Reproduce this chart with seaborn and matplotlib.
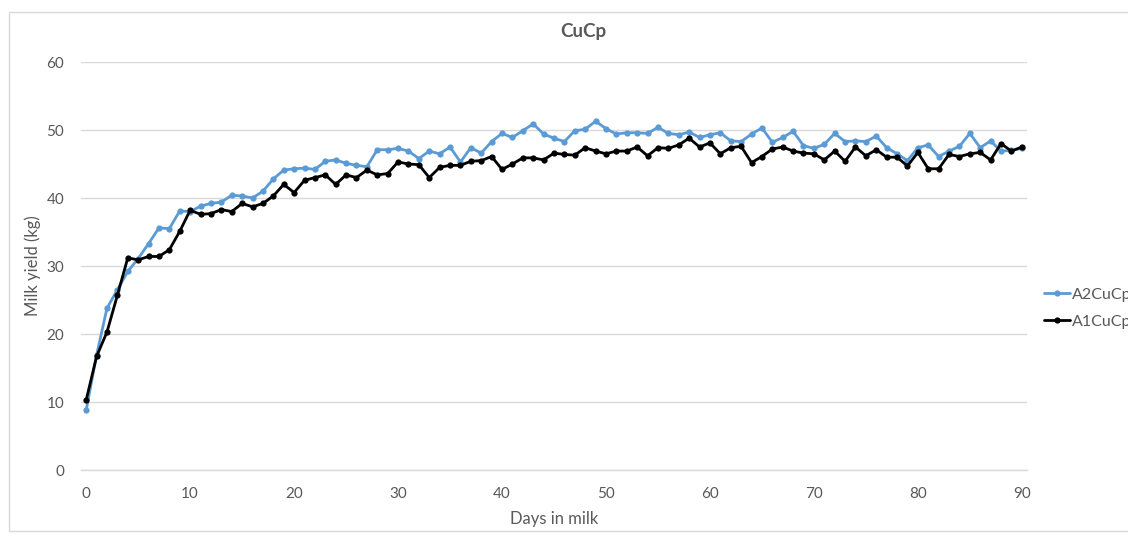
import matplotlib
matplotlib.use("Agg")
import matplotlib.pyplot as plt
import seaborn as sns
import pandas as pd
import numpy as np
from matplotlib.patches import Rectangle

days = list(range(0, 91))

a2_cucp = [8.8, 16.9, 23.8, 26.5, 29.2, 31.1, 33.3, 35.6, 35.5, 38.1,
           38.0, 38.8, 39.2, 39.4, 40.4, 40.3, 40.0, 41.0, 42.8, 44.1,
           44.3, 44.4, 44.2, 45.4, 45.6, 45.1, 44.8, 44.6, 47.1, 47.1,
           47.3, 46.9, 45.8, 46.9, 46.5, 47.5, 45.3, 47.4, 46.6, 48.3,
           49.5, 48.9, 49.9, 50.9, 49.4, 48.8, 48.3, 49.9, 50.1, 51.3,
           50.2, 49.4, 49.6, 49.6, 49.5, 50.4, 49.5, 49.3, 49.7, 48.9,
           49.3, 49.6, 48.4, 48.3, 49.4, 50.3, 48.2, 48.9, 49.8, 47.7,
           47.3, 47.9, 49.5, 48.3, 48.4, 48.3, 49.1, 47.4, 46.5, 45.5,
           47.4, 47.8, 46.1, 46.9, 47.6, 49.5, 47.4, 48.4, 46.9, 47.0,
           47.3]

a1_cucp = [10.3, 16.7, 20.3, 25.7, 31.2, 30.9, 31.4, 31.4, 32.4, 35.1,
           38.2, 37.6, 37.7, 38.3, 38.0, 39.2, 38.7, 39.2, 40.3, 42.0,
           40.8, 42.6, 43.0, 43.4, 42.0, 43.4, 43.0, 44.1, 43.4, 43.6,
           45.3, 45.0, 44.9, 43.0, 44.5, 44.8, 44.8, 45.4, 45.5, 46.1,
           44.2, 45.0, 45.9, 45.9, 45.6, 46.6, 46.4, 46.3, 47.4, 46.9,
           46.5, 46.9, 46.9, 47.5, 46.2, 47.4, 47.3, 47.8, 48.8, 47.5,
           48.1, 46.5, 47.4, 47.6, 45.2, 46.1, 47.2, 47.5, 46.9, 46.6,
           46.5, 45.6, 46.9, 45.4, 47.5, 46.2, 47.1, 46.0, 46.0, 44.7,
           46.7, 44.3, 44.3, 46.4, 46.1, 46.5, 46.7, 45.6, 48.0, 46.9,
           47.5]

series_names = ["A2CuCp", "A1CuCp"]
colors = {"A2CuCp": "#5B9BD5", "A1CuCp": "#000000"}

df = pd.concat([
    pd.DataFrame({"Day": days, "Yield": a2_cucp, "Series": "A2CuCp"}),
    pd.DataFrame({"Day": days, "Yield": a1_cucp, "Series": "A1CuCp"}),
], ignore_index=True)

sns.set_theme(style="white")
plt.rcParams["font.family"] = ["Lato", "DejaVu Sans"]

W, H = 1128, 533
fig = plt.figure(figsize=(W / 100, H / 100), dpi=100)
ax = fig.add_axes([81 / W, 1 - 470 / H, (1027 - 81) / W, (470 - 62) / H])

# outer chart frame
fig.patches.append(Rectangle((9 / W, 2 / H), 1.2, 1 - 14 / H, transform=fig.transFigure,
                             fill=False, edgecolor="#D9D9D9", linewidth=1.0))

sns.lineplot(data=df, x="Day", y="Yield", hue="Series", hue_order=series_names,
             palette=colors, marker="o", markersize=4.5, markeredgewidth=0,
             linewidth=2.0, ax=ax, legend=True)

ax.set_xlim(-0.5, 90.5)
ax.set_ylim(0, 60)
ax.set_xticks(range(0, 91, 10))
ax.set_xticks(range(0, 91), minor=True)
ax.set_yticks(range(0, 61, 10))
ax.yaxis.grid(True, color="#D9D9D9", linewidth=1.0)
ax.xaxis.grid(False)
for s in ["top", "right", "left"]:
    ax.spines[s].set_visible(False)
ax.spines["bottom"].set_color("#D9D9D9")
ax.spines["bottom"].set_linewidth(1.0)
ax.tick_params(axis="x", which="both", direction="inout", length=5, width=0.8,
               color="#D9D9D9", labelcolor="#595959", labelsize=11, pad=10)
ax.tick_params(axis="y", which="both", length=0, labelcolor="#595959", labelsize=11, pad=12)

ax.set_xlabel("Days in milk", color="#595959", fontsize=12, labelpad=7)
ax.set_ylabel("Milk yield (kg)", color="#595959", fontsize=12, labelpad=4)
fig.text(583 / W, 1 - 32 / H, "CuCp", ha="center", va="center", fontsize=13.5,
         fontweight="bold", color="#595959")

handles, labels = ax.get_legend_handles_labels()
leg = ax.legend(handles, labels, loc="center left", bbox_to_anchor=(1044 / W, 1 - 308 / H),
                bbox_transform=fig.transFigure, frameon=False, fontsize=11.5,
                handlelength=1.6, handletextpad=0.15, labelspacing=0.8, borderaxespad=0,
                borderpad=0)
for t in leg.get_texts():
    t.set_color("#595959")

fig.savefig("out.png", dpi=100)
